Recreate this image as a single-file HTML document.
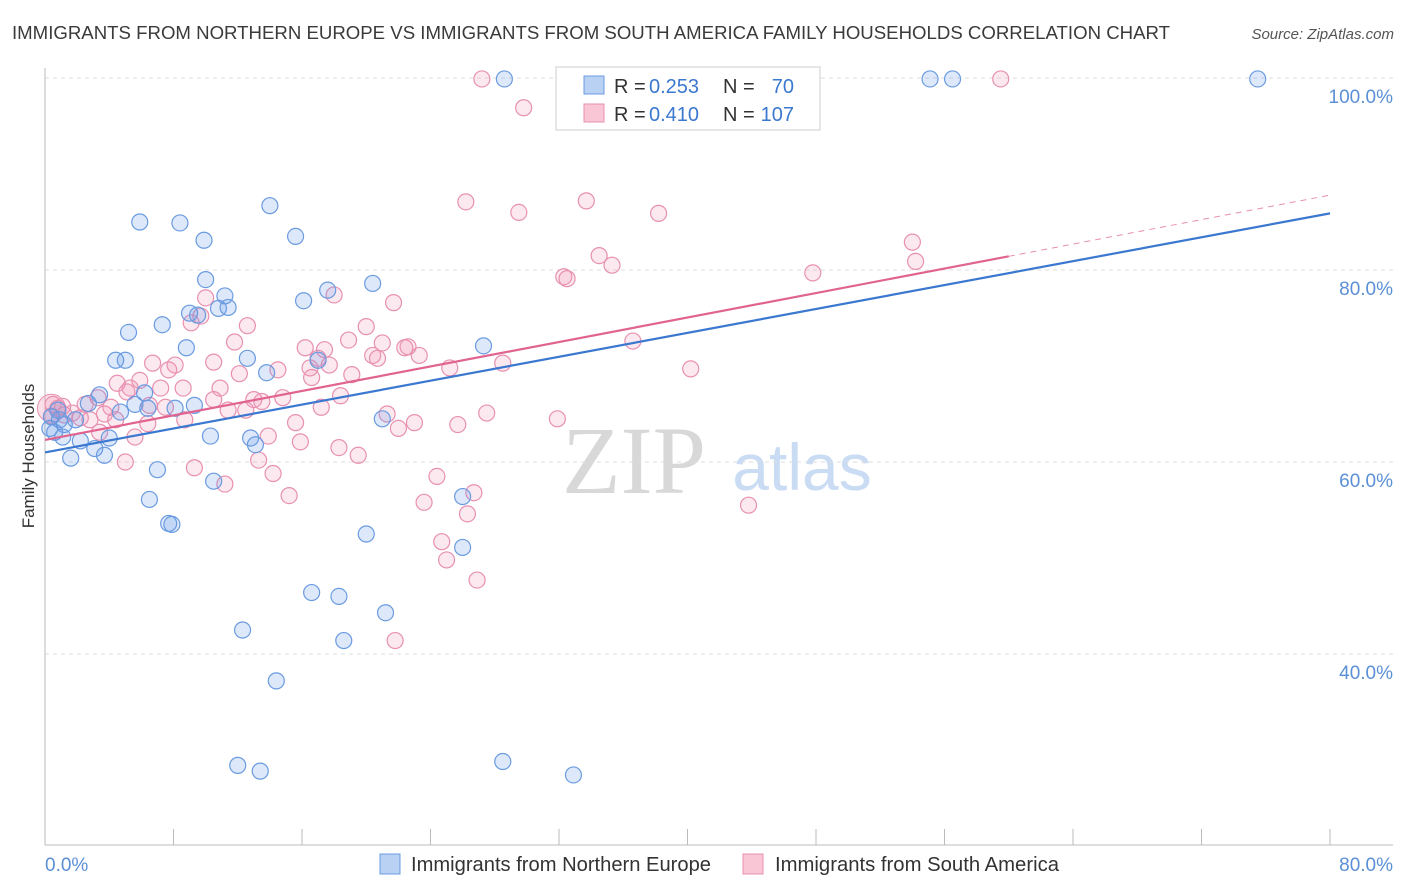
<!DOCTYPE html>
<html><head><meta charset="utf-8"><style>
body{margin:0;background:#fff;font-family:"Liberation Sans",sans-serif;}
#wrap{position:relative;width:1406px;height:892px;overflow:hidden;}
</style></head><body>
<div id="wrap">
<svg id="chart" width="1406" height="892">
<text x="12" y="39" font-size="18.5" fill="#3a3a3a" textLength="1158" lengthAdjust="spacingAndGlyphs">IMMIGRANTS FROM NORTHERN EUROPE VS IMMIGRANTS FROM SOUTH AMERICA FAMILY HOUSEHOLDS CORRELATION CHART</text>
<text x="1394" y="39" font-size="15" fill="#555" font-style="italic" text-anchor="end">Source: ZipAtlas.com</text>
<text x="634" y="493" font-size="96" fill="#d8d8d8" font-family="Liberation Serif,serif" text-anchor="middle">ZIP</text>
<text x="802" y="490" font-size="66" fill="#c9dcf3" text-anchor="middle">atlas</text>
<text transform="translate(34,456) rotate(-90)" font-size="17" fill="#333" text-anchor="middle">Family Households</text>
<g id="grid"></g><g id="pts"></g><g id="lines"></g>
<g>
<rect x="556" y="67" width="264" height="63" fill="#fff" stroke="#ccc"/>
<rect x="584" y="76" width="20" height="18" fill="#b9d2f4" stroke="#6a9be0"/>
<rect x="584" y="104" width="20" height="18" fill="#f9c6d6" stroke="#e890b0"/>
<text x="614" y="93" font-size="20" fill="#333">R =</text>
<text x="649" y="93" font-size="20" fill="#3b78d0">0.253</text>
<text x="723" y="93" font-size="20" fill="#333">N =</text>
<text x="794" y="93" font-size="20" fill="#3b78d0" text-anchor="end">70</text>
<text x="614" y="121" font-size="20" fill="#333">R =</text>
<text x="649" y="121" font-size="20" fill="#3b78d0">0.410</text>
<text x="723" y="121" font-size="20" fill="#333">N =</text>
<text x="794" y="121" font-size="20" fill="#3b78d0" text-anchor="end">107</text>
</g>
<g>
<rect x="380" y="854" width="20" height="20" fill="#b9d2f4" stroke="#6a9be0"/>
<text x="411" y="871" font-size="20" fill="#333" textLength="300" lengthAdjust="spacingAndGlyphs">Immigrants from Northern Europe</text>
<rect x="743" y="854" width="20" height="20" fill="#f9c6d6" stroke="#e890b0"/>
<text x="775" y="871" font-size="20" fill="#333" textLength="284" lengthAdjust="spacingAndGlyphs">Immigrants from South America</text>
</g>
<text x="45" y="871" font-size="19" fill="#5b8fd6">0.0%</text>
<text x="1393" y="871" font-size="19" fill="#5b8fd6" text-anchor="end">80.0%</text>
</svg>
</div>
<script>
const yTicks=[40,60,80,100];
const xTickVals=[0,8,16,24,32,40,48,56,64,72,80];
const blueX=[28.6,55.1,56.5,75.5,5.9,8.4,9.9,14.0,15.6,10.0,11.2,10.8,11.4,9.0,9.5,16.1,17.6,20.4,5.2,7.3,8.8,4.4,5.0,12.6,17.0,13.8,27.3,3.4,2.7,5.6,6.4,8.1,9.3,6.2,4.7,0.8,0.4,1.2,0.6,1.1,2.2,3.1,4.0,3.7,1.6,10.3,12.8,13.1,21.0,7.0,10.5,6.5,7.7,7.9,20.0,26.0,26.0,16.6,18.3,21.2,12.3,18.6,14.4,12.0,13.4,28.5,32.9,0.3,0.9,1.9];
const blueY=[99.9,99.9,99.9,99.9,85.0,84.9,83.1,86.7,83.5,79.0,77.3,76.0,76.1,75.5,75.3,76.8,77.9,78.6,73.5,74.3,71.9,70.6,70.6,70.8,70.6,69.3,72.1,67.0,66.1,66.0,65.6,65.6,65.9,67.2,65.2,65.4,64.7,63.9,63.1,62.6,62.2,61.4,62.5,60.7,60.4,62.7,62.5,61.8,64.5,59.2,58.0,56.1,53.6,53.5,52.5,56.4,51.1,46.4,46.0,44.3,42.5,41.4,37.2,28.4,27.8,28.8,27.4,63.5,64.4,64.4];
const pinkX=[27.2,59.5,29.8,26.2,29.5,33.7,38.2,34.5,35.3,32.3,32.5,47.8,54.0,54.2,18.0,21.7,10.0,12.6,9.7,9.1,20.0,18.9,21.0,22.6,16.2,17.4,6.7,8.1,10.5,11.8,16.5,20.4,20.7,22.4,23.3,17.0,17.7,25.2,28.5,36.6,40.2,7.7,4.5,5.3,5.9,7.2,8.6,10.9,12.1,14.5,19.1,18.4,16.6,13.0,13.5,14.8,10.5,12.5,11.4,4.1,5.1,2.5,3.3,1.7,1.1,0.5,0.4,2.8,6.4,8.7,17.2,15.6,13.9,15.9,21.3,23.0,22.0,27.5,25.7,31.9,5.6,3.4,5.0,9.3,11.2,13.3,14.2,15.2,18.3,19.5,24.4,23.6,26.7,26.3,24.7,25.0,26.9,21.8,43.8,3.7,4.4,0.8,1.2,2.2,6.5,7.5];
const pinkY=[99.9,99.9,96.9,87.1,86.0,87.2,85.9,81.5,80.5,79.3,79.1,79.7,82.9,80.9,77.4,76.6,77.1,74.2,75.2,74.5,74.1,72.7,72.4,72.0,71.9,71.7,70.3,70.1,70.4,72.5,69.8,71.1,70.8,71.9,71.1,70.8,70.1,69.8,70.3,72.6,69.7,69.6,68.2,67.7,68.5,67.7,67.7,67.7,69.2,69.6,69.1,66.9,68.8,66.5,66.3,66.7,66.5,65.4,65.4,65.7,67.3,66.0,66.7,65.1,65.8,66.0,64.8,64.4,64.0,64.4,65.7,64.1,62.7,62.1,65.0,64.1,63.5,65.1,63.9,64.5,62.6,63.1,60.0,59.4,57.7,60.2,58.8,56.5,61.5,60.7,58.5,55.8,56.8,54.6,51.7,49.8,47.7,41.4,55.5,65.0,64.4,65.6,64.9,64.6,65.9,65.7];
const blueTrend=[61.0,85.9];
const pinkTrend=[62.3,87.8];
const pinkSolidEnd=60;
const NS="http://www.w3.org/2000/svg";
const X0=45,X1=1330,Y100=78,PX=9.6;
function sx(v){return X0+(v/80)*(X1-X0);}
function sy(v){return Y100+(100-v)*PX;}
function mk(tag,attrs,parent){const e=document.createElementNS(NS,tag);for(const k in attrs)e.setAttribute(k,attrs[k]);parent.appendChild(e);return e;}
const grid=document.getElementById('grid');
yTicks.forEach(t=>{
 const l=mk('line',{x1:X0,x2:1393,y1:sy(t),y2:sy(t),stroke:'#ddd','stroke-dasharray':'4 4'},grid);
 
 
 const tx=mk('text',{x:1393,y:sy(t)+25,'font-size':19,fill:'#5b8fd6','text-anchor':'end'},grid);
 tx.textContent=t.toFixed(1)+'%';
 
 
});
const ax=mk('line',{x1:X0,x2:X0,y1:68,y2:845,stroke:'#bbb'},grid);


const bx=mk('line',{x1:X0,x2:1393,y1:845,y2:845,stroke:'#bbb'},grid);


xTickVals.forEach(t=>{
 const l=mk('line',{x1:sx(t),x2:sx(t),y1:829,y2:845,stroke:'#bbb'},grid);
 
 
});
const pts=document.getElementById('pts');
const big=mk('circle',{cx:sx(0.4),cy:sy(65.6),r:14,fill:'rgba(240,150,180,0.3)',stroke:'#e890b0'},pts);


pinkX.forEach((x,i)=>{
 const c=mk('circle',{cx:sx(x),cy:sy(pinkY[i]),r:8,fill:'rgba(240,150,180,0.22)',stroke:'#e890b0','stroke-width':1.2},pts);
 
 
});
blueX.forEach((x,i)=>{
 const c=mk('circle',{cx:sx(x),cy:sy(blueY[i]),r:8,fill:'rgba(100,150,230,0.22)',stroke:'#6a9be0','stroke-width':1.2},pts);
 
 
});
const lines=document.getElementById('lines');
const bl=mk('line',{x1:sx(0),y1:sy(blueTrend[0]),x2:sx(80),y2:sy(blueTrend[1]),stroke:'#3b78d0','stroke-width':2.2},lines);


const pe=pinkTrend[0]+(pinkTrend[1]-pinkTrend[0])*pinkSolidEnd/80;
const pl=mk('line',{x1:sx(0),y1:sy(pinkTrend[0]),x2:sx(pinkSolidEnd),y2:sy(pe),stroke:'#e0648f','stroke-width':2.2},lines);


const pd=mk('line',{x1:sx(pinkSolidEnd),y1:sy(pe),x2:sx(80),y2:sy(pinkTrend[1]),stroke:'#e890b0','stroke-width':1,'stroke-dasharray':'6 5'},lines);


</script>
</body></html>
